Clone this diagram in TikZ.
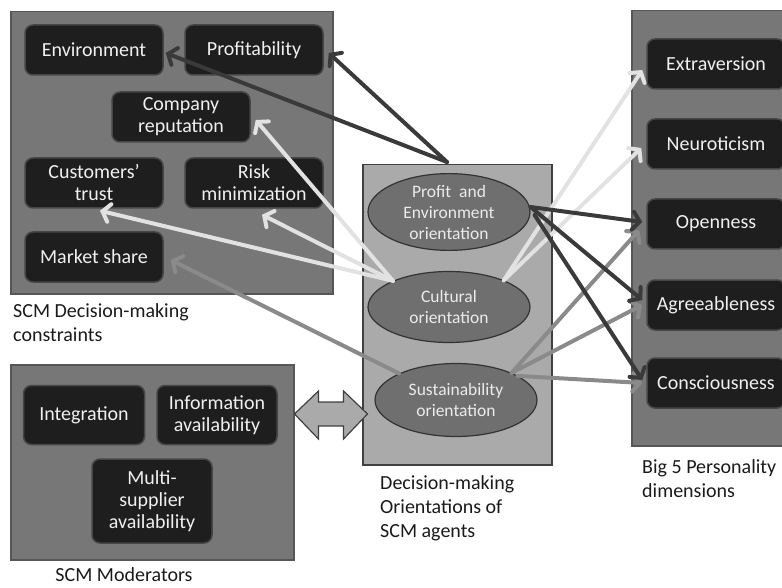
\documentclass[tikz,border=0pt]{standalone}
\usepackage{fontspec}
\setmainfont{Carlito}
\usetikzlibrary{arrows.meta,shapes.geometric,calc}

\definecolor{panelgray}{HTML}{777777}
\definecolor{paneledge}{HTML}{565656}
\definecolor{boxfill}{HTML}{1E1E1E}
\definecolor{boxedge}{HTML}{464646}
\definecolor{midpanel}{HTML}{AAAAAA}
\definecolor{midedge}{HTML}{404040}
\definecolor{ovalfill}{HTML}{6F6F6F}
\definecolor{darkline}{HTML}{3A3A3A}
\definecolor{lightline}{HTML}{E2E2E2}
\definecolor{midline}{HTML}{8A8A8A}
\definecolor{captext}{HTML}{1A1A1A}

\begin{document}
\begin{tikzpicture}[x=1pt,y=-1pt,
  panel/.style={draw=paneledge, fill=panelgray, line width=1.5pt, inner sep=0pt, anchor=north west},
  item/.style={draw=boxedge, fill=boxfill, line width=1.5pt, rounded corners=8pt,
    text=white!94!black, font=\fontsize{20}{22}\selectfont, align=center,
    inner sep=0pt, minimum width=138pt, minimum height=50pt},
  oval/.style={ellipse, draw=black!80, fill=ovalfill, line width=1.2pt,
    text=white!92!black, font=\fontsize{17.5}{21}\selectfont, align=center,
    inner sep=0pt, minimum width=162pt},
  caption/.style={font=\fontsize{20}{24}\selectfont, text=captext, align=left,
    anchor=north west, inner sep=0pt},
  link/.style={line width=4pt, line cap=round,
    -{Straight Barb[length=7pt,width=18pt,line cap=round]}},
]
\useasboundingbox (0,0) rectangle (782,588);

% ---- group panels ----
\node[panel, minimum width=322pt, minimum height=282pt] (conpanel) at (10,11) {};
\node[panel, minimum width=283pt, minimum height=195pt] (modpanel) at (10,364) {};
\node[panel, fill=midpanel, draw=midedge, minimum width=189pt, minimum height=300pt] (oripanel) at (362,164) {};
\node[panel, minimum width=175pt, minimum height=435pt] (bigpanel) at (631,10) {};

% ---- decision-making constraints ----
\node[item] (env)   at (94,50)   {Environment};
\node[item] (prof)  at (254,50)  {Profitability};
\node[item] (rep)   at (181,117) {Company\\reputation};
\node[item] (trust) at (94,183)  {Customers’\\trust};
\node[item] (risk)  at (254,183) {Risk\\minimization};
\node[item] (mkt)   at (94,257)  {Market share};

% ---- moderators ----
\node[item, minimum width=121pt, minimum height=59pt] (integ) at (84,415)  {Integration};
\node[item, minimum width=120pt, minimum height=59pt] (info)  at (217,415) {Information\\availability};
\node[item, minimum width=120pt, minimum height=84pt] (multi) at (152,501) {Multi-\\supplier\\availability};

% ---- orientations ----
\node[oval, minimum height=66pt] (pe)  at (449,212) {Profit\ \ and\\Environment\\orientation};
\node[oval, minimum height=71pt] (cul) at (449,307) {Cultural\\orientation};
\node[oval, minimum height=73pt] (sus) at (456,400) {Sustainability\\orientation};

% ---- personality dimensions ----
\node[item] (ext)  at (716,64)  {Extraversion};
\node[item] (neu)  at (716,144) {Neuroticism};
\node[item] (opn)  at (716,224) {Openness};
\node[item] (agr)  at (716,305) {Agreeableness};
\node[item] (con)  at (716,383) {Consciousness};

% ---- captions ----
\node[caption] (capcon) at (13,303) {SCM Decision-making\\constraints};
\node[caption, anchor=north, align=center] (capmod) at (124,567) {SCM Moderators};
\node[caption] (capori) at (380,475) {Decision-making\\Orientations of\\SCM agents};
\node[caption] (capbig) at (642,459) {Big 5 Personality\\dimensions};

% ---- two-way link between moderators and orientations ----
\coordinate (dblL) at (modpanel.east |- 0,414);
\draw[draw=midedge, fill=midpanel, line width=1.2pt, line join=miter]
  (dblL) -- ++(24,-23) -- ++(0,11) -- ++(25,0) -- ++(0,-11) -- ++(24,23)
  -- ++(-24,25) -- ++(0,-13) -- ++(-25,0) -- ++(0,13) -- cycle;

% ---- cultural orientation links ----
\draw[link, lightline] (cul.155) -- ([shift={(5,3)}]rep.east);
\draw[link, lightline] (cul.155) -- ([shift={(6,2)}]trust.south);
\draw[link, lightline] (cul.155) -- ([shift={(8,6)}]risk.south);
\draw[link, lightline] (cul.26) -- ([shift={(-4,6)}]ext.west);
\draw[link, lightline] (cul.26) -- ([shift={(-5,4)}]neu.west);

% ---- sustainability orientation links ----
\draw[link, midline] (sus.155) -- ([shift={(7,3)}]mkt.east);
\draw[link, midline] (sus.26) -- ([shift={(-7,6)}]opn.west);
\draw[link, midline] (sus.26) -- ([shift={(-4,0)}]agr.west);
\draw[link, midline] ([shift={(6,3)}]sus.26) -- ([shift={(-4,0)}]con.west);

% ---- profit and environment orientation links ----
\draw[link, darkline] ([shift={(-2,-11)}]pe.north) -- ([shift={(2,3)}]env.east);
\draw[link, darkline] ([shift={(-2,-11)}]pe.north) -- ([shift={(5,3)}]prof.east);
\draw[link, darkline] ([shift={(0,-5)}]pe.east) -- ([shift={(-4,-2)}]opn.west);
\draw[link, darkline] ([shift={(0,-5)}]pe.east) -- ([shift={(-4,-5)}]agr.west);
\draw[link, darkline] ([shift={(4,3)}]pe.east) -- ([shift={(-4,-3)}]con.west);
\end{tikzpicture}
\end{document}
